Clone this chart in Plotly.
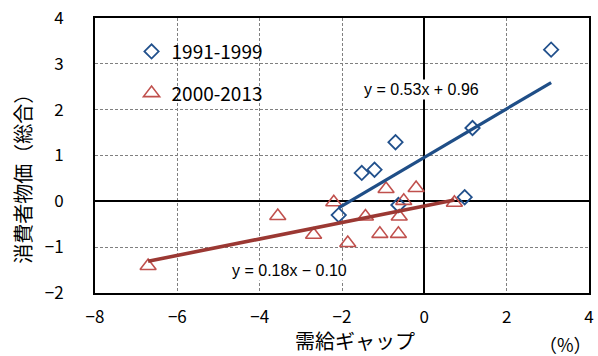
import plotly.graph_objects as go

# 需給ギャップ (%) と 消費者物価 (総合) の前年比
gap_1991_1999 = [3.08, 1.17, -0.70, -1.52, -1.21, -2.08, 0.98, -0.63]
cpi_1991_1999 = [3.31, 1.60, 1.29, 0.62, 0.69, -0.30, 0.09, -0.08]

gap_2000_2013 = [-6.71, -3.56, -2.69, -2.20, -0.93, -0.20, -0.50, -0.61,
                 -1.43, -1.08, -0.63, -1.86, 0.73]
cpi_2000_2013 = [-1.41, -0.32, -0.73, -0.02, 0.27, 0.29, 0.01, -0.33,
                 -0.33, -0.71, -0.71, -0.91, -0.03]

# 回帰式の係数 (傾き, 切片)
fit_1991_1999 = (0.53, 0.96)
fit_2000_2013 = (0.18, -0.10)

series_names = ["1991-1999", "2000-2013"]
x_ticks = [-8, -6, -4, -2, 0, 2, 4]
y_ticks = [-2, -1, 0, 1, 2, 3, 4]

BLUE = "#21508c"
BLUE_LINE = "#1f4e87"
RED = "#c0504d"
RED_LINE = "#9b3833"
JP_FONT = "Noto Sans CJK JP"
EQ_FONT = "Liberation Sans, Arial"


def trend(xs, coef):
    lo, hi = min(xs), max(xs)
    a, b = coef
    return [lo, hi], [a * lo + b, a * hi + b]


def eq_text(coef):
    a, b = coef
    sign = "+" if b >= 0 else "−"
    return f"y = {a:.2f}x {sign} {abs(b):.2f}"


fig = go.Figure()

fig.add_trace(go.Scatter(
    x=gap_1991_1999, y=cpi_1991_1999, mode="markers", name=series_names[0],
    legendgroup="a",
    marker=dict(symbol="diamond-open", size=11, color=BLUE,
                line=dict(width=1.8, color=BLUE)),
))
fig.add_trace(go.Scatter(
    x=gap_2000_2013, y=cpi_2000_2013, mode="markers", name=series_names[1],
    legendgroup="b",
    marker=dict(symbol="triangle-up-open", size=14, color=RED,
                line=dict(width=1.6, color=RED)),
))

tx, ty = trend(gap_1991_1999, fit_1991_1999)
fig.add_trace(go.Scatter(x=tx, y=ty, mode="lines", showlegend=False,
                         line=dict(color=BLUE_LINE, width=3.2)))
tx, ty = trend(gap_2000_2013, fit_2000_2013)
fig.add_trace(go.Scatter(x=tx, y=ty, mode="lines", showlegend=False,
                         line=dict(color=RED_LINE, width=3.6)))

axis_common = dict(
    showgrid=True, gridcolor="#808080", gridwidth=1, griddash="3px,2px",
    zeroline=True, zerolinecolor="black", zerolinewidth=2,
    showline=True, linecolor="black", linewidth=2, mirror=True,
    ticks="", automargin=False,
    tickfont=dict(family=JP_FONT, size=17, color="black"),
)

fig.update_xaxes(range=[-8, 4], tickvals=x_ticks, ticklabelstandoff=8,
                 **axis_common)
fig.update_yaxes(range=[-2, 4], tickvals=y_ticks, ticklabelstandoff=26,
                 **axis_common)

centered = dict(showarrow=False, xanchor="center", yanchor="middle")
annotations = [
    dict(x=-0.06, y=2.45, xref="x", yref="y", text=eq_text(fit_1991_1999),
         bgcolor="white", font=dict(family=EQ_FONT, size=16, color="black"),
         **centered),
    dict(x=-3.28, y=-1.50, xref="x", yref="y", text=eq_text(fit_2000_2013),
         bgcolor="white", font=dict(family=EQ_FONT, size=16, color="black"),
         **centered),
    dict(x=-0.146, y=0.433, xref="paper", yref="paper", text="消費者物価（総合）",
         textangle=-90, font=dict(family=JP_FONT, size=20, color="black"),
         **centered),
    dict(x=0.526, y=-0.172, xref="paper", yref="paper", text="需給ギャップ",
         font=dict(family=JP_FONT, size=20, color="black"), **centered),
    dict(x=0.953, y=-0.185, xref="paper", yref="paper", text="（%）",
         font=dict(family=JP_FONT, size=18, color="black"), **centered),
]

fig.update_layout(
    width=598, height=356,
    margin=dict(l=95, r=9, t=18, b=63, autoexpand=False),
    paper_bgcolor="white", plot_bgcolor="white",
    showlegend=True,
    legend=dict(x=0.074, y=0.947, xanchor="left", yanchor="top",
                bgcolor="rgba(0,0,0,0)", traceorder="grouped",
                tracegroupgap=14, itemwidth=30,
                font=dict(family=JP_FONT, size=19, color="black")),
    annotations=annotations,
)

fig.write_html("out.html")
